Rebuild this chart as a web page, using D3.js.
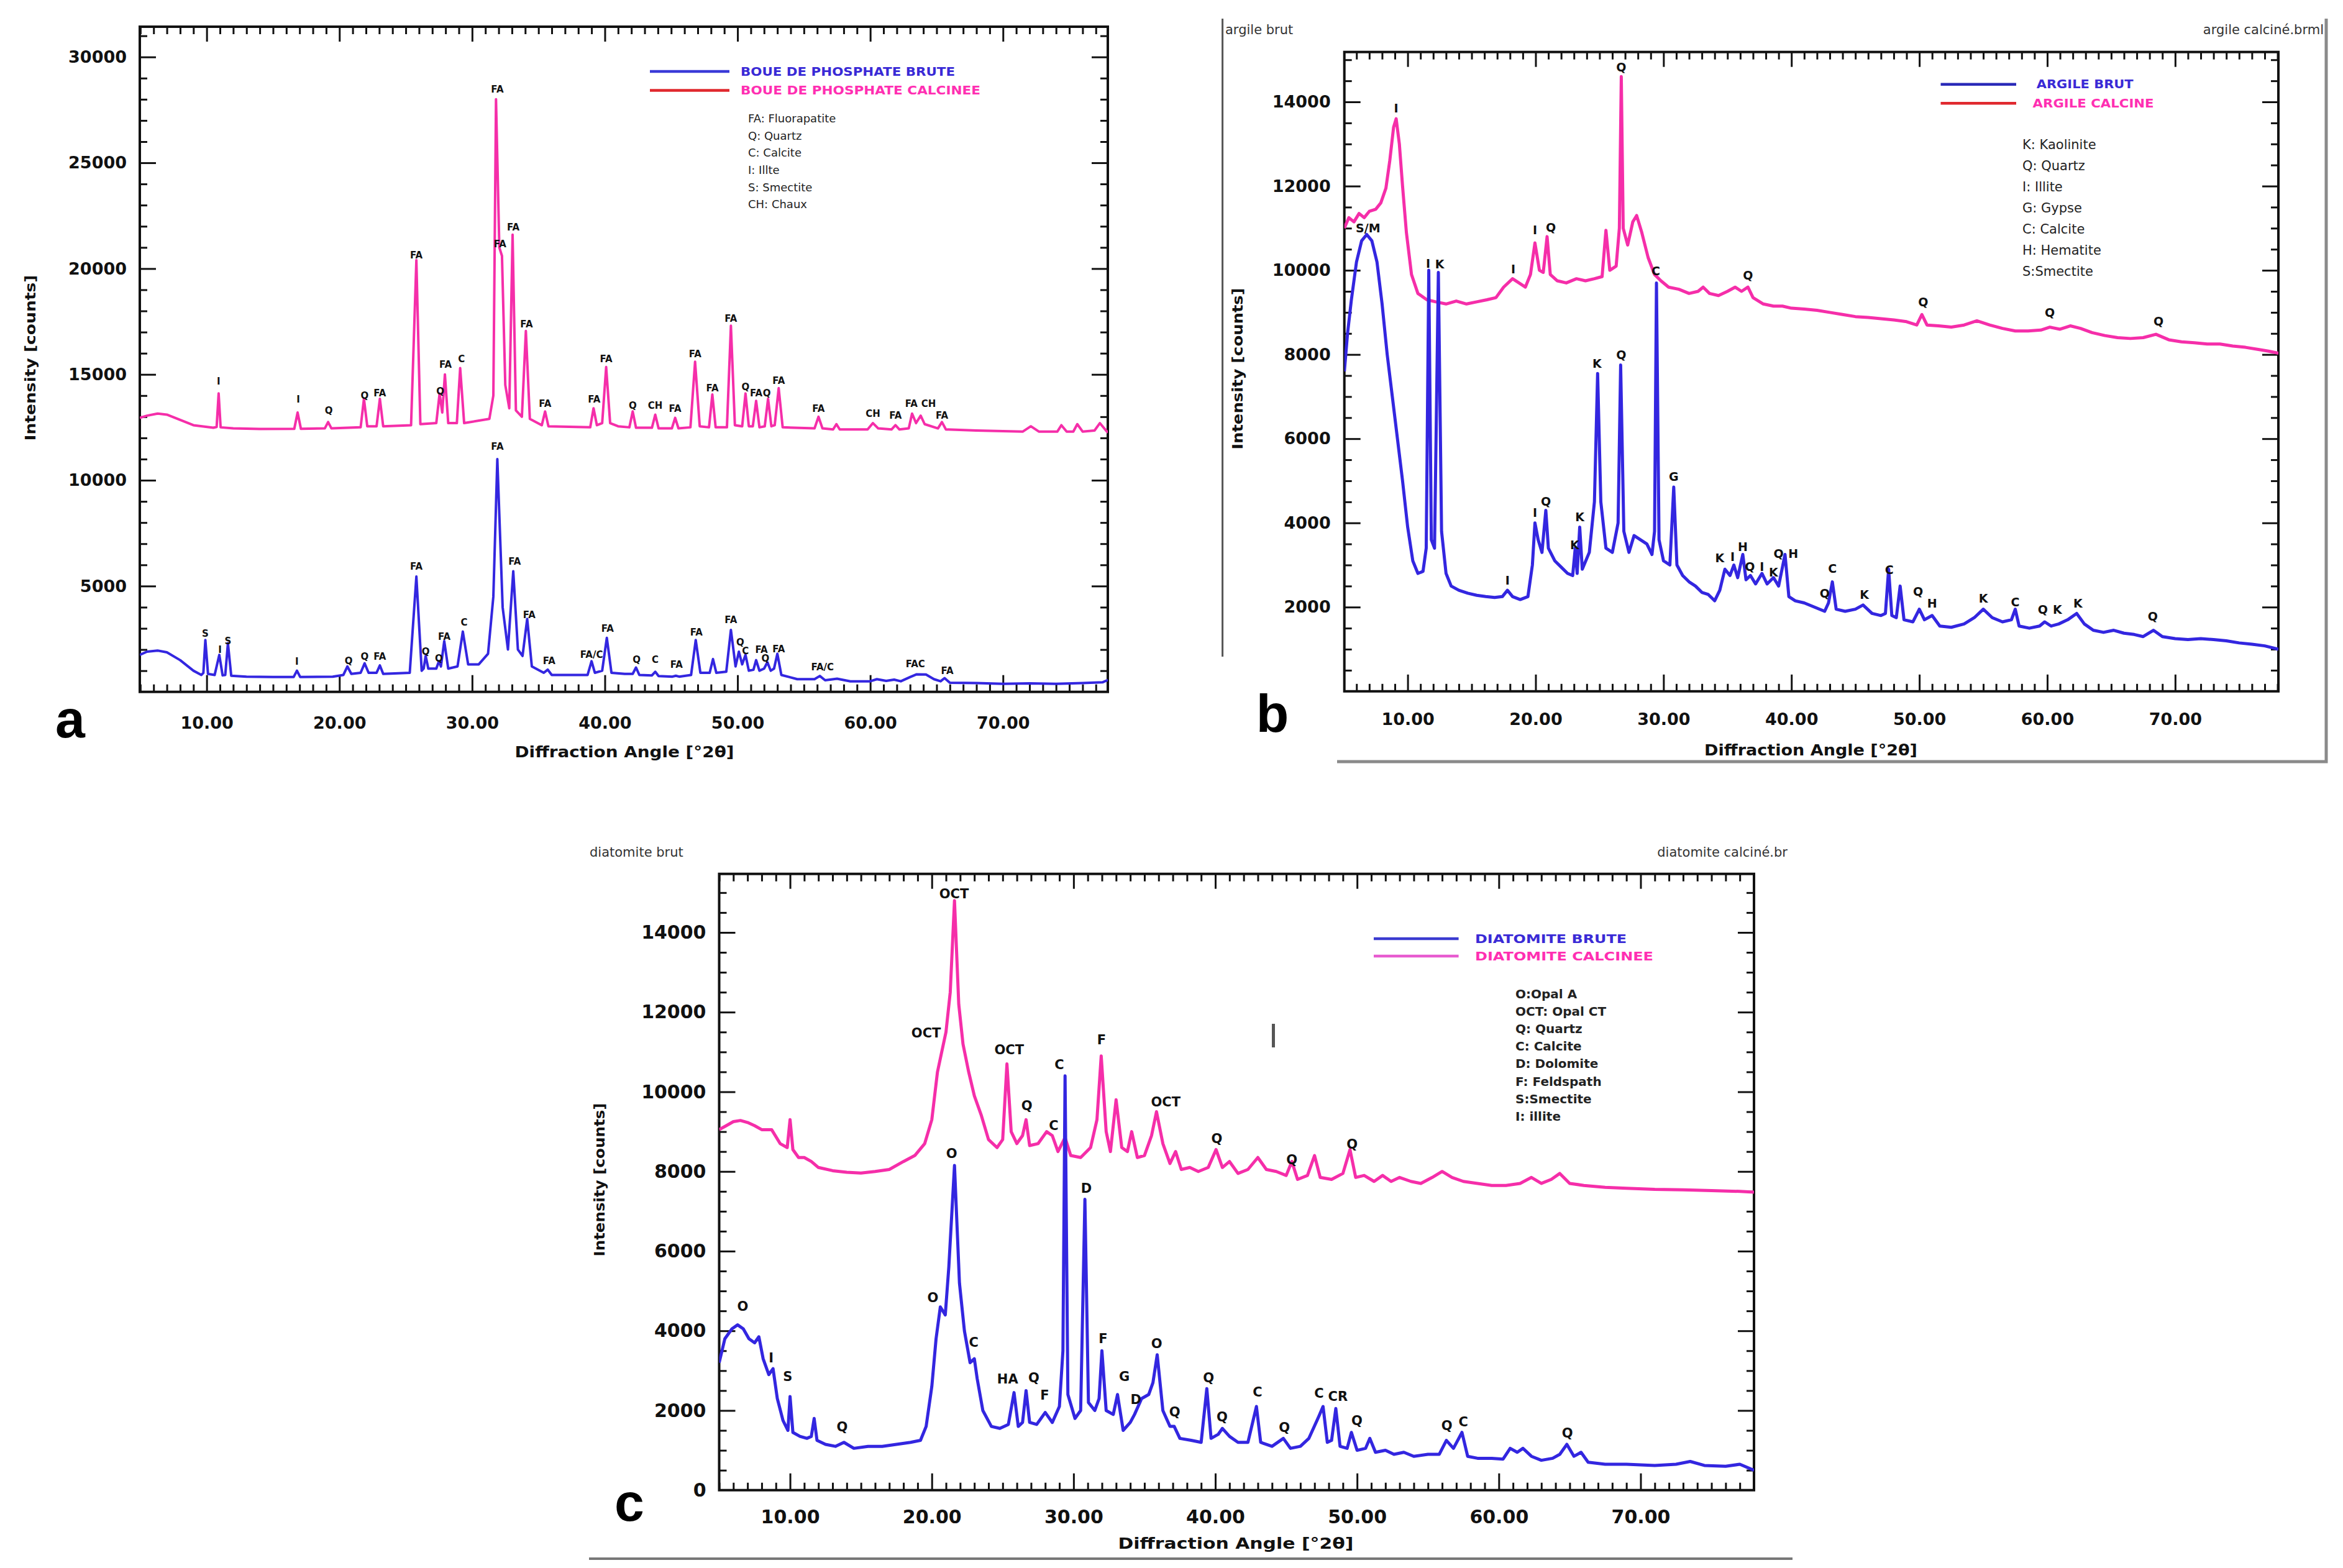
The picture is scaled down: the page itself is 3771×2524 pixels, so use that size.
<!DOCTYPE html>
<html>
<head>
<meta charset="utf-8">
<script src="https://cdn.jsdelivr.net/npm/d3@7"></script>
<style>
  body { margin: 0; background: #fff; }
</style>
</head>
<body>
<script>
// ---- tick labels ----
const xTicks = [10, 20, 30, 40, 50, 60, 70];
const aYTicks = [5000, 10000, 15000, 20000, 25000, 30000];
const bYTicks = [2000, 4000, 6000, 8000, 10000, 12000, 14000];
const cYTicks = [0, 2000, 4000, 6000, 8000, 10000, 12000, 14000];

// ---- legends ----
const aSeries = ["BOUE DE PHOSPHATE BRUTE", "BOUE DE PHOSPHATE CALCINEE"];
const aKey = ["FA: Fluorapatite", "Q: Quartz", "C: Calcite", "I: Illte", "S: Smectite", "CH: Chaux"];
const bSeries = ["ARGILE BRUT", "ARGILE CALCINE"];
const bKey = ["K: Kaolinite", "Q: Quartz", "I: Illite", "G: Gypse", "C: Calcite", "H: Hematite", "S:Smectite"];
const cSeries = ["DIATOMITE BRUTE", "DIATOMITE CALCINEE"];
const cKey = ["O:Opal A", "OCT: Opal CT", "Q: Quartz", "C: Calcite", "D: Dolomite", "F: Feldspath", "S:Smectite", "I: illite"];

// ---- panel a : [2theta, counts] ----
const aBrute = [[4.96,1750],[5.5,1900],[6.3,1950],[7.0,1870],[8.0,1500],[9.0,1000],[9.6,800],[9.75,900],[9.9,2450],[10.1,850],
  [10.6,800],[10.95,1750],[11.2,780],[11.4,800],[11.6,2300],[11.85,760],[13,720],[15,700],[16.55,700],[16.8,1000],[17.05,700],
  [19.5,720],[20.3,800],[20.6,1200],[20.9,850],[21.6,900],[21.9,1350],[22.2,900],[22.8,900],[23.05,1250],[23.3,850],[25.3,900],
  [25.8,5450],[26.2,1000],[26.35,1100],[26.5,1700],[26.7,1100],[27.3,1100],[27.5,1450],[27.65,1200],[27.9,2400],[28.2,1100],
  [28.9,1200],[29.3,2850],[29.7,1300],[30.5,1300],[31.2,1800],[31.6,4500],[31.9,11000],[32.3,4000],[32.7,2000],[33.1,5700],
  [33.45,2000],[33.8,1700],[34.15,3450],[34.5,1200],[35.4,900],[35.7,1050],[36.0,800],[38.7,800],[39.0,1450],[39.25,900],
  [39.8,1000],[40.15,2550],[40.5,900],[41.5,850],[42.1,850],[42.35,1150],[42.6,800],[43.55,780],[43.8,950],[44.05,750],
  [45.1,720],[45.35,760],[45.6,720],[46.5,800],[46.85,2450],[47.2,900],[47.9,900],[48.15,1550],[48.4,900],[49.15,950],
  [49.5,2930],[49.85,1200],[50.1,1900],[50.35,1300],[50.6,1750],[50.85,1000],[51.2,1050],[51.4,1500],[51.65,1000],[52.0,1100],
  [52.25,1400],[52.5,1000],[52.75,1100],[53.0,1800],[53.3,800],[54.5,600],[55.8,600],[56.2,750],[56.6,550],[57.5,620],
  [58.5,500],[60.0,500],[60.5,600],[61.2,520],[61.8,580],[62.3,500],[63.0,700],[63.5,830],[64.2,820],[64.8,600],[65.3,500],
  [65.6,650],[66.0,430],[68,420],[70,380],[72,400],[74,380],[76,420],[77.5,450],[77.9,560]];
const aCalc = [[4.96,12950],[5.5,13050],[6.3,13150],[7.0,13100],[8.0,12850],[9.0,12600],[10.5,12480],[10.75,12520],[10.9,14100],
  [11.05,12500],[12,12450],[14,12420],[16.6,12430],[16.85,13200],[17.1,12430],[18.9,12450],[19.15,12750],[19.4,12450],
  [21.6,12500],[21.85,13850],[22.1,12550],[22.8,12550],[23.05,13850],[23.3,12550],[25.4,12600],[25.8,20400],[26.1,12650],
  [27.3,12700],[27.55,14100],[27.75,13200],[27.95,15000],[28.2,12700],[28.85,12700],[29.1,15300],[29.4,12700],[31.3,12900],
  [31.6,14000],[31.8,28000],[32.05,21000],[32.25,20600],[32.5,14500],[32.8,13400],[33.05,21600],[33.3,13300],[33.75,13000],
  [34.05,17050],[34.35,12900],[35.25,12600],[35.5,13250],[35.75,12550],[38.9,12500],[39.15,13400],[39.4,12600],[39.8,12700],
  [40.1,15350],[40.4,12700],[41.0,12550],[41.85,12500],[42.1,13250],[42.35,12480],[43.55,12480],[43.8,13100],[44.05,12450],
  [45.05,12450],[45.3,12950],[45.55,12450],[46.45,12500],[46.8,15600],[47.15,12550],[47.85,12500],[48.1,14050],[48.35,12500],
  [49.2,12500],[49.5,17300],[49.8,12600],[50.35,12550],[50.6,14100],[50.85,12550],[51.15,12550],[51.4,13750],[51.65,12500],
  [52.05,12550],[52.3,13850],[52.55,12550],[52.8,12600],[53.1,14350],[53.4,12500],[55.8,12450],[56.1,13000],[56.4,12450],
  [57.2,12400],[57.45,12650],[57.7,12400],[59.8,12400],[60.2,12700],[60.6,12450],[61.6,12400],[61.9,12600],[62.2,12400],
  [62.9,12450],[63.15,13150],[63.45,12700],[63.8,13050],[64.1,12650],[65.1,12450],[65.4,12750],[65.7,12400],[68,12350],
  [71.5,12300],[72.1,12550],[72.7,12300],[74.1,12300],[74.4,12600],[74.8,12300],[75.3,12300],[75.6,12650],[76.0,12300],
  [76.9,12350],[77.3,12700],[77.9,12250]];
const aBruteLabels = [[9.9,2760,"S"],[11.0,2000,"I"],[11.6,2410,"S"],[16.8,1430,"I"],[20.7,1480,"Q"],[21.9,1660,"Q"],
  [23.05,1660,"FA"],[25.8,5930,"FA"],[26.5,1900,"Q"],[27.5,1590,"Q"],[27.9,2600,"FA"],[29.4,3300,"C"],[31.9,11600,"FA"],
  [33.2,6160,"FA"],[34.3,3650,"FA"],[35.8,1480,"FA"],[39.0,1760,"FA/C"],[40.2,3000,"FA"],[42.4,1520,"Q"],[43.8,1520,"C"],
  [45.4,1290,"FA"],[46.9,2830,"FA"],[49.5,3400,"FA"],[50.2,2340,"Q"],[50.6,1950,"C"],[51.8,1990,"FA"],[52.1,1590,"Q"],
  [53.1,2030,"FA"],[56.4,1170,"FA/C"],[63.4,1310,"FAC"],[65.8,1000,"FA"]];
const aCalcLabels = [[10.9,14670,"I"],[16.9,13820,"I"],[19.2,13310,"Q"],[21.9,14010,"Q"],[23.05,14130,"FA"],[25.8,20640,"FA"],
  [27.6,14220,"Q"],[28.0,15460,"FA"],[29.2,15720,"C"],[31.9,28470,"FA"],[32.1,21160,"FA"],[33.1,21950,"FA"],[34.1,17390,"FA"],
  [35.5,13610,"FA"],[39.2,13820,"FA"],[40.1,15720,"FA"],[42.1,13540,"Q"],[43.8,13540,"CH"],[45.3,13380,"FA"],[46.8,15960,"FA"],
  [48.1,14360,"FA"],[49.5,17640,"FA"],[50.6,14410,"Q"],[51.4,14130,"FA"],[52.2,14130,"Q"],[53.1,14710,"FA"],[56.1,13380,"FA"],
  [60.2,13140,"CH"],[61.9,13070,"FA"],[63.1,13610,"FA"],[64.4,13610,"CH"],[65.4,13070,"FA"]];

// ---- panel b ----
const bBrut = [[5.05,7600],[5.3,8500],[5.6,9300],[6.0,10200],[6.4,10700],[6.8,10850],[7.2,10700],[7.6,10200],[8.0,9200],[8.4,8000],
  [8.8,7000],[9.2,6000],[9.6,5000],[10.0,3900],[10.4,3100],[10.8,2800],[11.2,2850],[11.45,3400],[11.65,10000],[11.85,3600],
  [12.1,3400],[12.4,9950],[12.65,3800],[13.0,2800],[13.4,2500],[14.0,2400],[14.7,2330],[15.4,2280],[16.1,2250],[16.8,2230],
  [17.4,2250],[17.8,2400],[18.2,2250],[18.8,2180],[19.4,2250],[19.75,3000],[19.95,4000],[20.2,3600],[20.5,3300],[20.8,4300],
  [21.0,3400],[21.5,3100],[22.0,2950],[22.5,2800],[22.9,2750],[23.1,3400],[23.25,2800],[23.45,3900],[23.65,2900],[24.2,3300],
  [24.6,4500],[24.85,7550],[25.1,4500],[25.5,3400],[26.0,3300],[26.45,4000],[26.65,7750],[26.9,3800],[27.3,3300],[27.7,3700],
  [28.2,3600],[28.7,3500],[29.1,3250],[29.3,3800],[29.45,9700],[29.65,3600],[30.0,3100],[30.5,3000],[30.8,4850],[31.05,3000],
  [31.5,2750],[32.0,2600],[32.5,2500],[33.0,2350],[33.5,2300],[34.0,2150],[34.4,2400],[34.8,2900],[35.2,2750],[35.5,3000],
  [35.8,2700],[36.2,3250],[36.45,2650],[36.8,2750],[37.2,2550],[37.7,2800],[38.1,2550],[38.6,2700],[39.0,2500],[39.5,3250],
  [39.8,2250],[40.3,2150],[41.0,2100],[41.8,2000],[42.6,1900],[42.9,2100],[43.2,2600],[43.5,1950],[44.2,1900],[45.0,1950],
  [45.6,2050],[46.3,1850],[47.0,1800],[47.35,1850],[47.6,2900],[47.85,1800],[48.2,1750],[48.5,2500],[48.8,1700],[49.5,1650],
  [50.0,1950],[50.4,1700],[51.0,1800],[51.6,1550],[52.5,1520],[53.5,1600],[54.3,1750],[55.0,1950],[55.7,1750],[56.5,1650],
  [57.2,1700],[57.5,1950],[57.8,1550],[58.6,1500],[59.4,1550],[59.8,1650],[60.3,1550],[60.9,1600],[61.6,1700],[62.3,1850],
  [62.9,1600],[63.6,1450],[64.4,1400],[65.2,1450],[66.0,1380],[66.8,1350],[67.5,1300],[68.3,1450],[69.0,1300],[70.0,1250],
  [71.0,1230],[72.0,1250],[73.0,1230],[74.0,1200],[75.0,1150],[76.0,1120],[77.0,1080],[78.07,1000]];
const bCalc = [[5.05,11000],[5.4,11250],[5.8,11150],[6.2,11350],[6.6,11250],[7.0,11400],[7.5,11450],[7.9,11600],[8.3,11950],
  [8.6,12600],[8.9,13400],[9.1,13600],[9.35,13000],[9.6,12000],[9.9,10900],[10.3,9900],[10.8,9450],[11.5,9300],[12.2,9250],
  [13.0,9200],[13.8,9270],[14.6,9200],[15.4,9250],[16.2,9300],[16.9,9350],[17.5,9600],[18.2,9800],[18.7,9700],[19.2,9600],
  [19.6,9900],[19.95,10650],[20.3,10000],[20.6,9950],[20.9,10800],[21.15,9900],[21.7,9750],[22.4,9700],[23.2,9800],[23.9,9750],
  [24.6,9800],[25.2,9850],[25.5,10950],[25.8,10000],[26.3,10100],[26.55,11000],[26.7,14600],[26.85,11000],[27.2,10600],
  [27.6,11150],[27.9,11300],[28.3,10900],[28.8,10300],[29.3,9900],[29.8,9750],[30.4,9600],[31.2,9550],[32.0,9450],[32.7,9500],
  [33.1,9600],[33.6,9450],[34.3,9400],[35.0,9500],[35.6,9600],[36.1,9500],[36.6,9600],[37.0,9350],[37.8,9200],[38.6,9150],
  [39.3,9150],[40.0,9100],[41.0,9080],[42.0,9050],[43.0,9000],[44.0,8950],[45.0,8900],[46.0,8880],[47.0,8850],[48.0,8820],
  [49.0,8780],[49.8,8700],[50.2,8950],[50.6,8700],[51.5,8680],[52.5,8650],[53.5,8700],[54.5,8800],[55.5,8700],[56.5,8620],
  [57.5,8560],[58.5,8560],[59.5,8580],[60.2,8650],[61.0,8600],[61.8,8680],[62.6,8620],[63.5,8520],[64.5,8450],[65.5,8400],
  [66.5,8380],[67.5,8400],[68.5,8480],[69.5,8350],[70.5,8300],[71.5,8280],[72.5,8250],[73.5,8250],[74.5,8200],[75.5,8170],
  [76.5,8120],[77.3,8080],[78.07,8030]];
const bBrutLabels = [[11.6,10160,"I"],[12.5,10140,"K"],[17.8,2640,"I"],[19.95,4240,"I"],[20.8,4500,"Q"],[23.05,3470,"K"],
  [23.45,4140,"K"],[24.8,7780,"K"],[26.7,7990,"Q"],[29.4,9980,"C"],[30.8,5100,"G"],[34.4,3170,"K"],[35.4,3200,"I"],
  [36.2,3430,"H"],[36.75,2960,"Q"],[37.7,2960,"I"],[38.6,2820,"K"],[39.0,3270,"Q"],[40.15,3270,"H"],[42.6,2320,"Q"],
  [43.2,2910,"C"],[45.7,2290,"K"],[47.65,2880,"C"],[49.9,2370,"Q"],[51.0,2090,"H"],[55.0,2210,"K"],[57.5,2110,"C"],
  [59.65,1935,"Q"],[60.8,1935,"K"],[62.4,2090,"K"],[68.25,1780,"Q"]];
const bCalcLabels = [[6.9,11000,"S/M"],[9.1,13850,"I"],[18.26,10020,"I"],[19.95,10960,"I"],[21.2,11020,"Q"],[26.7,14820,"Q"],
  [36.6,9880,"Q"],[50.3,9250,"Q"],[60.2,8990,"Q"],[68.7,8780,"Q"]];

// ---- panel c ----
const cBrute = [[5.0,3200],[5.4,3800],[5.9,4050],[6.3,4150],[6.7,4050],[7.1,3800],[7.5,3700],[7.8,3850],[8.1,3300],[8.5,2900],
  [8.8,3050],[9.1,2300],[9.5,1750],[9.85,1500],[10.0,2350],[10.2,1450],[10.7,1350],[11.2,1300],[11.5,1350],[11.7,1800],
  [11.9,1250],[12.5,1150],[13.2,1100],[13.8,1200],[14.5,1050],[15.5,1100],[16.5,1100],[17.5,1150],[18.5,1200],[19.2,1250],
  [19.6,1600],[20.0,2600],[20.3,3800],[20.6,4600],[20.95,4400],[21.2,5600],[21.6,8150],[21.95,5200],[22.3,4000],[22.7,3200],
  [23.0,3300],[23.2,2800],[23.6,2000],[24.2,1600],[24.8,1550],[25.4,1650],[25.8,2450],[26.1,1600],[26.4,1700],[26.65,2500],
  [26.9,1700],[27.4,1650],[28.0,1950],[28.5,1700],[29.0,2100],[29.25,3500],[29.4,10400],[29.6,2400],[30.1,1800],[30.5,2000],
  [30.8,7300],[31.05,2200],[31.5,2000],[31.8,2300],[32.0,3500],[32.3,2000],[32.8,1900],[33.1,2400],[33.5,1500],[34.0,1700],
  [34.3,1900],[34.8,2300],[35.3,2400],[35.6,2700],[35.9,3400],[36.3,2000],[36.8,1600],[37.1,1600],[37.5,1300],[38.3,1250],
  [39.0,1200],[39.4,2550],[39.7,1300],[40.2,1400],[40.5,1550],[41.0,1350],[41.6,1200],[42.3,1200],[42.9,2100],[43.2,1200],
  [44.0,1100],[44.8,1300],[45.3,1050],[46.0,1100],[46.6,1300],[47.3,1850],[47.6,2100],[47.9,1200],[48.2,1250],[48.5,2050],
  [48.8,1100],[49.3,1050],[49.6,1450],[50.0,1000],[50.6,1050],[50.9,1300],[51.3,950],[52.0,1000],[52.6,900],[53.3,950],
  [54.0,850],[55.0,900],[55.8,900],[56.3,1250],[56.8,1050],[57.4,1450],[57.8,850],[58.5,800],[59.5,800],[60.3,780],[60.8,1050],
  [61.3,950],[61.7,1050],[62.3,850],[63.0,750],[63.8,800],[64.3,900],[64.8,1150],[65.3,850],[65.8,950],[66.3,700],[67.5,650],
  [69.0,650],[71.0,620],[72.5,650],[73.5,720],[74.5,620],[76.0,600],[77.0,650],[78.0,500]];
const cCalc = [[5.0,9050],[5.5,9150],[6.0,9250],[6.5,9280],[7.0,9230],[7.5,9150],[8.0,9050],[8.7,9050],[9.3,8700],[9.8,8600],
  [10.0,9300],[10.2,8550],[10.6,8350],[11.0,8350],[11.5,8250],[12.0,8100],[13.0,8020],[14.0,7980],[15.0,7960],[16.0,8000],
  [17.0,8050],[18.0,8250],[18.8,8400],[19.5,8700],[20.0,9300],[20.4,10500],[20.7,11000],[21.0,11500],[21.3,12500],[21.6,14800],
  [21.9,12200],[22.2,11200],[22.6,10500],[23.0,9900],[23.5,9400],[24.0,8800],[24.6,8600],[25.0,8800],[25.3,10700],[25.6,9000],
  [26.0,8700],[26.4,8900],[26.65,9300],[26.9,8650],[27.5,8700],[28.1,9000],[28.5,8900],[28.9,8500],[29.4,8850],[29.8,8400],
  [30.5,8350],[31.2,8600],[31.65,9300],[31.95,10900],[32.3,9000],[32.6,8500],[33.0,9800],[33.4,8600],[33.8,8500],[34.1,9000],
  [34.5,8350],[35.0,8400],[35.5,8900],[35.85,9500],[36.3,8700],[36.8,8200],[37.2,8500],[37.6,8050],[38.2,8100],[38.8,8000],
  [39.5,8100],[40.05,8550],[40.5,8100],[41.0,8250],[41.6,7950],[42.3,8050],[43.0,8350],[43.6,8050],[44.3,8000],[45.0,7900],
  [45.4,8250],[45.8,7800],[46.5,7900],[47.0,8400],[47.4,7850],[48.2,7800],[49.0,7950],[49.5,8550],[49.9,7850],[50.5,7900],
  [51.2,7750],[51.8,7900],[52.4,7750],[53.0,7850],[53.8,7750],[54.5,7700],[55.3,7850],[56.0,8000],[56.7,7850],[57.5,7750],
  [58.5,7700],[59.5,7650],[60.5,7650],[61.5,7700],[62.3,7850],[63.0,7700],[63.7,7800],[64.3,7950],[65.0,7700],[66.0,7650],
  [67.5,7600],[69.0,7580],[71.0,7550],[73.0,7540],[75.0,7520],[77.0,7500],[78.0,7480]];
const cBruteLabels = [[6.66,4620,"O"],[8.67,3330,"I"],[9.83,2850,"S"],[13.67,1590,"Q"],[20.07,4840,"O"],[21.4,8450,"O"],
  [22.96,3710,"C"],[25.35,2790,"HA"],[27.2,2820,"Q"],[27.96,2390,"F"],[29.0,10690,"C"],[30.9,7580,"D"],[32.08,3800,"F"],
  [33.58,2850,"G"],[34.4,2270,"D"],[35.86,3680,"O"],[37.14,1960,"Q"],[39.53,2820,"Q"],[40.48,1840,"Q"],[42.98,2470,"C"],
  [44.87,1570,"Q"],[47.32,2430,"C"],[48.65,2350,"CR"],[49.99,1740,"Q"],[56.33,1630,"Q"],[57.5,1715,"C"],[64.84,1430,"Q"]];
const cCalcLabels = [[21.57,14970,"OCT"],[19.6,11480,"OCT"],[25.46,11060,"OCT"],[26.7,9650,"Q"],[28.6,9160,"C"],
  [31.97,11310,"F"],[36.5,9740,"OCT"],[40.1,8820,"Q"],[45.4,8290,"Q"],[49.65,8690,"Q"]];

// ---- drawing ----
const W = 3771, H = 2524;
const BOLD = "'DejaVu Sans', Verdana, sans-serif";
const BLUE = "#3326e0", PINK = "#f52ea9";

const svg = d3.select("body").append("svg")
  .attr("width", W).attr("height", H)
  .style("background", "#fff");

function tickLines(sel) {
  sel.select(".domain").remove();
  sel.selectAll("line").attr("stroke", "#111").attr("stroke-width", 3);
}

function panel(o) {
  const g = svg.append("g");
  const x = d3.scaleLinear().domain(o.xDom).range([o.left, o.right]);
  const y = d3.scaleLinear().domain(o.yDom).range([o.bottom, o.top]);

  const xMinor = d3.range(Math.ceil(o.xDom[0]), o.xDom[1], 1).filter(v => v % 10 !== 0);
  const yMinor = d3.range(o.yStep, o.yDom[1], o.yStep).filter(v => v % o.yMajor !== 0);
  const yMajor = d3.range(o.yMajor, o.yDom[1], o.yMajor);

  // minor + major ticks on all four sides, pointing inward
  [[d3.axisBottom, x, xMinor, 12, 0, o.bottom], [d3.axisBottom, x, xTicks, 27, 0, o.bottom],
   [d3.axisTop, x, xMinor, 12, 0, o.top], [d3.axisTop, x, xTicks, 24, 0, o.top],
   [d3.axisLeft, y, yMinor, 12, o.left, 0], [d3.axisLeft, y, yMajor, 26, o.left, 0],
   [d3.axisRight, y, yMinor, 12, o.right, 0], [d3.axisRight, y, yMajor, 26, o.right, 0]]
    .forEach(([fn, sc, vals, len, tx, ty]) => {
      g.append("g").attr("transform", `translate(${tx},${ty})`)
        .call(fn(sc).tickValues(vals).tickSize(-len).tickSizeOuter(0).tickFormat(""))
        .call(tickLines);
    });

  // labelled axes
  g.append("g").attr("transform", `translate(0,${o.bottom})`)
    .call(d3.axisBottom(x).tickValues(xTicks).tickSize(0).tickPadding(o.xPad).tickFormat(d3.format(".2f")))
    .call(s => s.select(".domain").remove())
    .selectAll("text").attr("font-family", BOLD).attr("font-weight", "bold")
    .attr("font-size", o.tickFs).attr("fill", "#111");
  g.append("g").attr("transform", `translate(${o.left},0)`)
    .call(d3.axisLeft(y).tickValues(o.yTicks).tickSize(0).tickPadding(o.yPad).tickFormat(d3.format("d")))
    .call(s => s.select(".domain").remove())
    .selectAll("text").attr("font-family", BOLD).attr("font-weight", "bold")
    .attr("font-size", o.tickFs).attr("fill", "#111");

  // frame
  g.append("rect")
    .attr("x", o.left).attr("y", o.top)
    .attr("width", o.right - o.left).attr("height", o.bottom - o.top)
    .attr("fill", "none").attr("stroke", "#111").attr("stroke-width", 4);

  // curves
  g.append("clipPath").attr("id", o.id + "-clip")
    .append("rect").attr("x", o.left).attr("y", o.top)
    .attr("width", o.right - o.left).attr("height", o.bottom - o.top);
  const line = d3.line().x(d => x(d[0])).y(d => y(d[1]));
  const curves = g.append("g").attr("clip-path", `url(#${o.id}-clip)`)
    .attr("fill", "none").attr("stroke-linejoin", "round");
  curves.append("path").datum(o.calc).attr("d", line)
    .attr("stroke", PINK).attr("stroke-width", o.lw);
  curves.append("path").datum(o.brut).attr("d", line)
    .attr("stroke", BLUE).attr("stroke-width", o.lw);

  // phase labels
  g.append("g").selectAll("text")
    .data(o.labels)
    .join("text")
    .attr("x", d => x(d[0])).attr("y", d => y(d[1]))
    .attr("dy", "0.35em").attr("text-anchor", "middle")
    .attr("font-family", BOLD).attr("font-weight", "bold")
    .attr("font-size", o.labFs).attr("fill", "#111")
    .text(d => d[2]);

  // series legend
  const lg = g.append("g");
  o.series.forEach((s, i) => {
    lg.append("line")
      .attr("x1", o.leg.x0).attr("x2", o.leg.x1)
      .attr("y1", o.leg.ys[i]).attr("y2", o.leg.ys[i])
      .attr("stroke", o.leg.lineColors[i]).attr("stroke-width", 4.5);
    lg.append("text")
      .attr("x", o.leg.tx[i]).attr("y", o.leg.ys[i]).attr("dy", "0.35em")
      .attr("font-family", BOLD).attr("font-weight", "bold")
      .attr("font-size", o.leg.fs)
      .attr("textLength", o.leg.tw[i]).attr("lengthAdjust", "spacingAndGlyphs")
      .attr("fill", i === 0 ? "#3a2ad6" : "#ff2fb2")
      .text(s);
  });

  // mineral key
  g.append("g").selectAll("text")
    .data(o.key)
    .join("text")
    .attr("x", o.keyX).attr("y", (d, i) => o.keyY0 + i * o.keyDy).attr("dy", "0.35em")
    .attr("font-family", BOLD).attr("font-weight", o.keyWeight)
    .attr("font-size", o.keyFs).attr("fill", "#222")
    .text(d => d);

  // axis titles
  g.append("text")
    .attr("transform", `translate(${o.yTitle[0]},${o.yTitle[1]}) rotate(-90)`)
    .attr("dy", "0.35em").attr("text-anchor", "middle")
    .attr("font-family", BOLD).attr("font-weight", "bold").attr("font-size", 23)
    .attr("textLength", o.yTitle[2]).attr("lengthAdjust", "spacingAndGlyphs")
    .attr("fill", "#111").text("Intensity [counts]");
  g.append("text")
    .attr("x", o.xTitle[0]).attr("y", o.xTitle[1])
    .attr("dy", "0.35em").attr("text-anchor", "middle")
    .attr("font-family", BOLD).attr("font-weight", "bold").attr("font-size", 24)
    .attr("textLength", o.xTitle[2]).attr("lengthAdjust", "spacingAndGlyphs")
    .attr("fill", "#111").text("Diffraction Angle [°2θ]");

  // panel letter
  g.append("text")
    .attr("x", o.letter[0]).attr("y", o.letter[1])
    .attr("text-anchor", "middle")
    .attr("font-family", "'Liberation Sans', Arial, sans-serif").attr("font-weight", "bold")
    .attr("font-size", 86).attr("fill", "#000")
    .text(o.letter[2]);
  return g;
}

// Panel a
panel({
  id: "a", left: 225, right: 1783, top: 43, bottom: 1113.7,
  xDom: [4.96, 77.9], yDom: [0, 31430], yStep: 1000, yMajor: 5000, yTicks: aYTicks,
  xPad: 40, yPad: 21, tickFs: 27, lw: 4, labFs: 15,
  brut: aBrute, calc: aCalc, labels: aBruteLabels.concat(aCalcLabels),
  series: aSeries,
  leg: { x0: 1046, x1: 1174, ys: [115, 145.5], tx: [1192, 1192], tw: [345, 386], fs: 19,
         lineColors: ["#3a3ad8", "#e0282e"] },
  key: aKey, keyX: 1204, keyY0: 190.6, keyDy: 27.7, keyFs: 18, keyWeight: "normal",
  yTitle: [49, 576, 267], xTitle: [1005, 1211, 353], letter: [113, 1187, "a"]
});

// Panel b
panel({
  id: "b", left: 2163.7, right: 3667, top: 83.7, bottom: 1112.8,
  xDom: [5.05, 78.07], yDom: [0, 15185], yStep: 500, yMajor: 2000, yTicks: bYTicks,
  xPad: 35, yPad: 22, tickFs: 27, lw: 5, labFs: 19,
  brut: bBrut, calc: bCalc, labels: bBrutLabels.concat(bCalcLabels),
  series: bSeries,
  leg: { x0: 3123.5, x1: 3245, ys: [135.8, 166.2], tx: [3277.7, 3271.6], tw: [156, 195], fs: 19,
         lineColors: ["#2a2ab8", "#e0282e"] },
  key: bKey, keyX: 3255, keyY0: 232.6, keyDy: 34, keyFs: 21, keyWeight: "normal",
  yTitle: [1992, 593.5, 260], xTitle: [2914.5, 1207.6, 343], letter: [2048, 1178, "b"]
});

// Panel c
panel({
  id: "c", left: 1157.5, right: 2823, top: 1406.7, bottom: 2398.7,
  xDom: [5.0, 78.0], yDom: [0, 15470], yStep: 500, yMajor: 2000, yTicks: cYTicks,
  xPad: 32, yPad: 21, tickFs: 30, lw: 5, labFs: 21,
  brut: cBrute, calc: cCalc, labels: cBruteLabels.concat(cCalcLabels),
  series: cSeries,
  leg: { x0: 2211, x1: 2347.6, ys: [1511, 1539], tx: [2374, 2374], tw: [244, 287], fs: 20,
         lineColors: ["#3a3ad0", "#e85bd0"] },
  key: cKey, keyX: 2439, keyY0: 1599.6, keyDy: 28.2, keyFs: 20, keyWeight: "bold",
  yTitle: [965, 1899, 247], xTitle: [1989, 2485, 379], letter: [1013, 2448, "c"]
});

// screenshot remnants around panels b and c
const deco = svg.append("g").attr("font-family", BOLD).attr("font-size", 21).attr("fill", "#333");
deco.append("line").attr("x1", 1967.6).attr("x2", 1967.6).attr("y1", 30).attr("y2", 1057)
  .attr("stroke", "#555").attr("stroke-width", 3);
deco.append("text").attr("x", 1972).attr("y", 48).attr("dy", "0.35em").text("argile brut");
deco.append("text").attr("x", 3740).attr("y", 48).attr("dy", "0.35em").attr("text-anchor", "end").text("argile calciné.brml");
deco.append("path").attr("d", "M3744,30V1226H2152").attr("fill", "none")
  .attr("stroke", "#8a8a8a").attr("stroke-width", 5);
deco.append("text").attr("x", 949).attr("y", 1372).attr("dy", "0.35em").text("diatomite brut");
deco.append("text").attr("x", 2877).attr("y", 1372).attr("dy", "0.35em").attr("text-anchor", "end").text("diatomite calciné.br");
deco.append("line").attr("x1", 948).attr("x2", 2885).attr("y1", 2509).attr("y2", 2509)
  .attr("stroke", "#777").attr("stroke-width", 4);
deco.append("rect").attr("x", 2047).attr("y", 1648).attr("width", 5).attr("height", 38).attr("fill", "#555");
</script>
</body>
</html>
